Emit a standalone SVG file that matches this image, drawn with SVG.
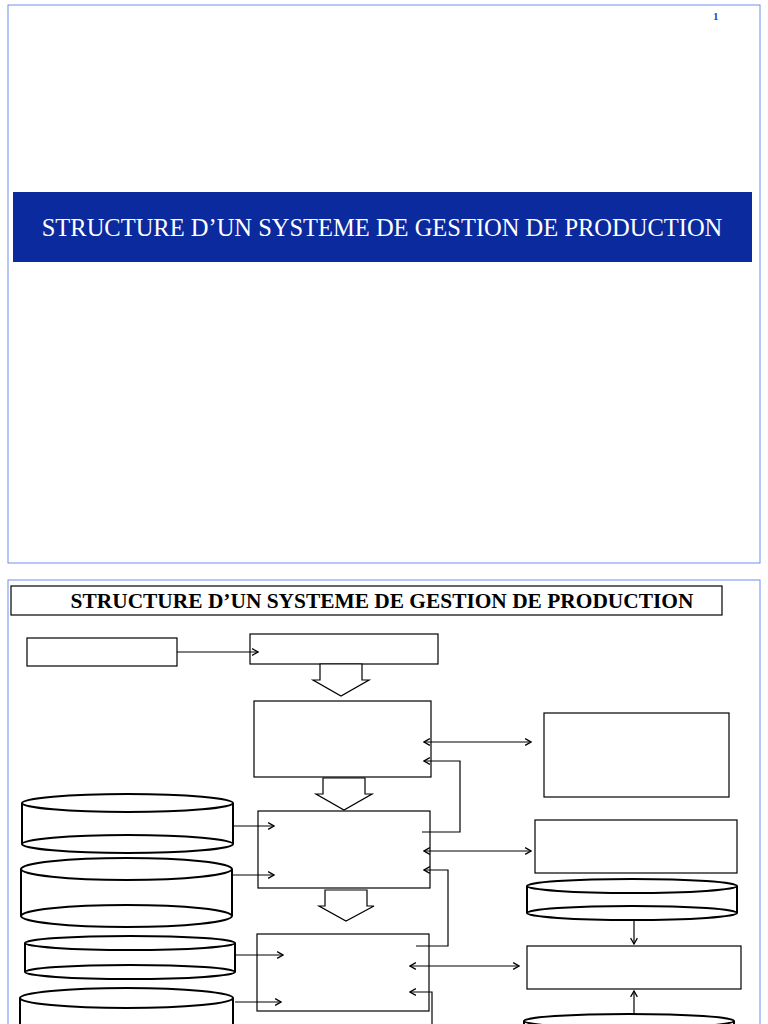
<svg xmlns="http://www.w3.org/2000/svg" width="768" height="1024" viewBox="0 0 768 1024">
<style>
.b{fill:#fff;stroke:#000;stroke-width:1.2}
.c{fill:#fff;stroke:#000;stroke-width:2}
.l{fill:none;stroke:#000;stroke-width:1.2}
.s{fill:none;stroke:#6f8ff0;stroke-width:1}
.n{font-family:"Liberation Serif",serif;font-weight:bold;font-size:11px;fill:#2244cc}
</style>
<defs>
<marker id="a" viewBox="0 0 10 10" refX="9" refY="5" markerWidth="7" markerHeight="7" orient="auto-start-reverse"><polyline points="2,1 9,5 2,9" fill="none" stroke="#000" stroke-width="1.5"/></marker>
</defs>
<rect width="768" height="1024" fill="#fff"/>
<g id="slide1">
<rect class="s" x="8" y="5" width="752" height="558"/>
<text class="n" x="713" y="20">1</text>
<rect x="13" y="192" width="739" height="70" fill="#0a2a9e"/>
<text x="382" y="236" text-anchor="middle" font-family="Liberation Serif,serif" font-size="24.5" fill="#fff">STRUCTURE D’UN SYSTEME DE GESTION DE PRODUCTION</text>
</g>
<g id="slide2">
<rect class="s" x="8" y="580" width="752" height="450"/>
<text class="n" x="713" y="596">2</text>
<rect class="b" x="11" y="586" width="711" height="29"/>
<text x="382" y="608" text-anchor="middle" font-family="Liberation Serif,serif" font-weight="bold" font-size="21.4">STRUCTURE D’UN SYSTEME DE GESTION DE PRODUCTION</text>
</g>
<g id="boxA"><rect class="b" x="27" y="638" width="150" height="28"/></g>
<g id="boxB"><rect class="b" x="250" y="634" width="188" height="30"/></g>
<g id="boxC"><rect class="b" x="254" y="701" width="177" height="76"/></g>
<g id="boxD"><rect class="b" x="544" y="713" width="185" height="84"/></g>
<g id="boxE"><rect class="b" x="258" y="811" width="172" height="77"/></g>
<g id="boxF"><rect class="b" x="535" y="820" width="202" height="53"/></g>
<g id="boxG"><rect class="b" x="257" y="934" width="172" height="77"/></g>
<g id="boxH"><rect class="b" x="527" y="946" width="214" height="43"/></g>
<g id="bigArrows">
<polygon class="b" points="320,664 362,664 362,680 369,680 341,696 313,680 320,680"/>
<polygon class="b" points="323,778 365,778 365,794 372,794 344,810 316,794 323,794"/>
<polygon class="b" points="325,890 367,890 367,906 374,906 346,921 319,906 325,906"/>
</g>
<g id="cyl1"><path class="c" d="M22,803 V844 A105.5,9 0 0 0 233,844 V803"/><ellipse class="c" cx="127.5" cy="803" rx="105.5" ry="9"/><path class="c" d="M22,844 A105.5,9 0 0 1 233,844"/></g>
<g id="cyl2"><path class="c" d="M21,869 V916 A105.5,11 0 0 0 232,916 V869"/><ellipse class="c" cx="126.5" cy="869" rx="105.5" ry="11"/><path class="c" d="M21,916 A105.5,11 0 0 1 232,916"/></g>
<g id="cyl3"><path class="c" d="M25,943 V972 A105,7 0 0 0 235,972 V943"/><ellipse class="c" cx="130" cy="943" rx="105" ry="7"/><path class="c" d="M25,972 A105,7 0 0 1 235,972"/></g>
<g id="cyl4"><path class="c" d="M20,998 V1030 H233 V998"/><ellipse class="c" cx="126.5" cy="998" rx="106.5" ry="10"/></g>
<g id="cyl5"><path class="c" d="M527,886 V913 A105,7 0 0 0 737,913 V886"/><ellipse class="c" cx="632" cy="886" rx="105" ry="7"/><path class="c" d="M527,913 A105,7 0 0 1 737,913"/></g>
<g id="cyl6"><path class="c" d="M524,1021 V1030 H734 V1021"/><ellipse class="c" cx="629" cy="1021" rx="105" ry="7"/></g>
<g id="connectors">
<line class="l" x1="177" y1="652" x2="258" y2="652" marker-end="url(#a)"/>
<line class="l" x1="424" y1="742" x2="531" y2="742" marker-start="url(#a)" marker-end="url(#a)"/>
<polyline class="l" points="422,832 460,832 460,761 424,761" marker-end="url(#a)"/>
<line class="l" x1="424" y1="851" x2="531" y2="851" marker-start="url(#a)" marker-end="url(#a)"/>
<polyline class="l" points="416,946 448,946 448,870 424,870" marker-end="url(#a)"/>
<line class="l" x1="410" y1="966" x2="519" y2="966" marker-start="url(#a)" marker-end="url(#a)"/>
<polyline class="l" points="432,1030 432,992 410,992" marker-end="url(#a)"/>
<line class="l" x1="233" y1="826" x2="274" y2="826" marker-end="url(#a)"/>
<line class="l" x1="232" y1="875" x2="274" y2="875" marker-end="url(#a)"/>
<line class="l" x1="235" y1="955" x2="283" y2="955" marker-end="url(#a)"/>
<line class="l" x1="235" y1="1002" x2="281" y2="1002" marker-end="url(#a)"/>
<line class="l" x1="634" y1="921" x2="634" y2="944" marker-end="url(#a)"/>
<line class="l" x1="634" y1="1014" x2="634" y2="991" marker-end="url(#a)"/>
</g>
</svg>
